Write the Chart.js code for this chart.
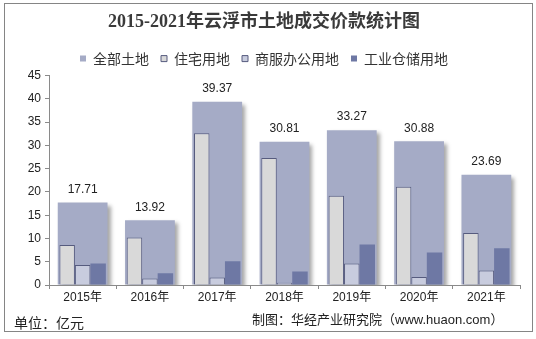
<!DOCTYPE html>
<html>
<head>
<meta charset="utf-8">
<script src="https://cdn.jsdelivr.net/npm/chart.js@4/dist/chart.umd.min.js"></script>
<style>
  html, body { margin: 0; padding: 0; background: #fff; }
  #wrap { position: relative; width: 536px; height: 339px; overflow: hidden; }
  #chart { position: absolute; left: 0; top: 0; }
  #frame { position: absolute; left: 4px; top: 3px; width: 529px; height: 329px;
           box-sizing: border-box; border: 1px solid #858585; pointer-events: none; }
  .note { position: absolute; color: #222; white-space: nowrap; line-height: 1; }
  #unit { left: 14px; top: 312px; font: 14px "Noto Sans CJK SC", sans-serif; }
  #src { left: 252px; top: 309px; font: 13px "Liberation Sans", "Noto Sans CJK SC", sans-serif; }
</style>
</head>
<body>
<div id="wrap">
  <canvas id="chart" width="536" height="339"></canvas>
  <div id="frame"></div>
  <div class="note" id="unit">单位：亿元</div>
  <div class="note" id="src">制图：华经产业研究院（www.huaon.com）</div>
</div>
<script>
const years = ['2015年', '2016年', '2017年', '2018年', '2019年', '2020年', '2021年'];
const totalLand = [17.71, 13.92, 39.37, 30.81, 33.27, 30.88, 23.69];
const residential = [8.6, 10.2, 32.6, 27.3, 19.2, 21.1, 11.2];
const commercial = [4.3, 1.4, 1.6, 0.5, 4.6, 1.7, 3.1];
const industrial = [4.6, 2.5, 5.1, 2.9, 8.7, 7.0, 7.9];

// shadow behind the wide 全部土地 bars
const shadowPlugin = {
    id: 'barShadow',
    beforeDatasetDraw(chart, args) {
        if (args.index !== 0) return;
        const ctx = chart.ctx;
        ctx.save();
        ctx.shadowColor = 'rgba(0,0,0,0.35)';
        ctx.shadowBlur = 4;
        ctx.shadowOffsetX = 3;
        ctx.shadowOffsetY = 3;
    },
    afterDatasetDraw(chart, args) {
        if (args.index !== 0) return;
        chart.ctx.restore();
    }
};

// value labels above the total bars
const totalLabels = {
    id: 'totalLabels',
    afterDatasetsDraw(chart) {
        const ctx = chart.ctx;
        const meta = chart.getDatasetMeta(0);
        ctx.save();
        ctx.font = '12px "Liberation Sans", Arial, sans-serif';
        ctx.fillStyle = '#222';
        ctx.textAlign = 'center';
        ctx.textBaseline = 'middle';
        meta.data.forEach((bar, i) => {
            ctx.fillText(totalLand[i].toFixed(2), bar.x, bar.y - 13);
        });
        ctx.restore();
    }
};

new Chart(document.getElementById('chart'), {
    type: 'bar',
    data: {
        labels: years,
        datasets: [
            {
                label: '全部土地',
                data: totalLand,
                backgroundColor: '#A5ABC6',
                borderWidth: 0,
                grouped: false,
                order: 1,
                categoryPercentage: 0.74,
                barPercentage: 1
            },
            {
                label: '住宅用地',
                data: residential,
                backgroundColor: '#D9D9D9',
                borderColor: '#565B7E',
                borderWidth: 1,
                order: 0,
                categoryPercentage: 0.69,
                barPercentage: 1
            },
            {
                label: '商服办公用地',
                data: commercial,
                backgroundColor: '#C8CCDE',
                borderColor: '#565B7E',
                borderWidth: 1,
                order: 0,
                categoryPercentage: 0.69,
                barPercentage: 1
            },
            {
                label: '工业仓储用地',
                data: industrial,
                backgroundColor: '#6E78A4',
                borderColor: '#6E78A4',
                borderWidth: 0,
                order: 0,
                categoryPercentage: 0.69,
                barPercentage: 1
            }
        ]
    },
    options: {
        responsive: false,
        animation: false,
        layout: { padding: { left: 8, right: 16, top: 0, bottom: 34 } },
        plugins: {
            title: {
                display: true,
                text: '2015-2021年云浮市土地成交价款统计图',
                color: '#3a3a3a',
                font: { family: '"Liberation Serif", "Noto Sans CJK SC", serif', size: 18, weight: 'bold' },
                padding: { top: 12, bottom: 6 }
            },
            legend: {
                display: true,
                labels: {
                    color: '#333',
                    font: { family: '"Noto Sans CJK SC", sans-serif', size: 14 },
                    boxWidth: 6,
                    boxHeight: 6,
                    padding: 12,
                    sort: (a, b) => a.datasetIndex - b.datasetIndex
                }
            },
            tooltip: { enabled: false }
        },
        scales: {
            x: {
                afterFit(scale) { scale.height = 20; },
                border: { color: '#8a8a8a' },
                grid: { drawOnChartArea: false, tickLength: 4, color: '#8a8a8a' },
                ticks: {
                    color: '#222',
                    padding: 1,
                    font: { family: '"Liberation Sans", "Noto Sans CJK SC", sans-serif', size: 12 }
                }
            },
            y: {
                min: 0,
                max: 45,
                afterFit(scale) { scale.width = 41; },
                border: { color: '#8a8a8a' },
                grid: { drawOnChartArea: false, tickLength: 4, color: '#8a8a8a' },
                ticks: {
                    stepSize: 5,
                    color: '#222',
                    padding: 4,
                    font: { family: '"Liberation Sans", Arial, sans-serif', size: 12 }
                }
            }
        }
    },
    plugins: [shadowPlugin, totalLabels]
});
</script>
</body>
</html>
